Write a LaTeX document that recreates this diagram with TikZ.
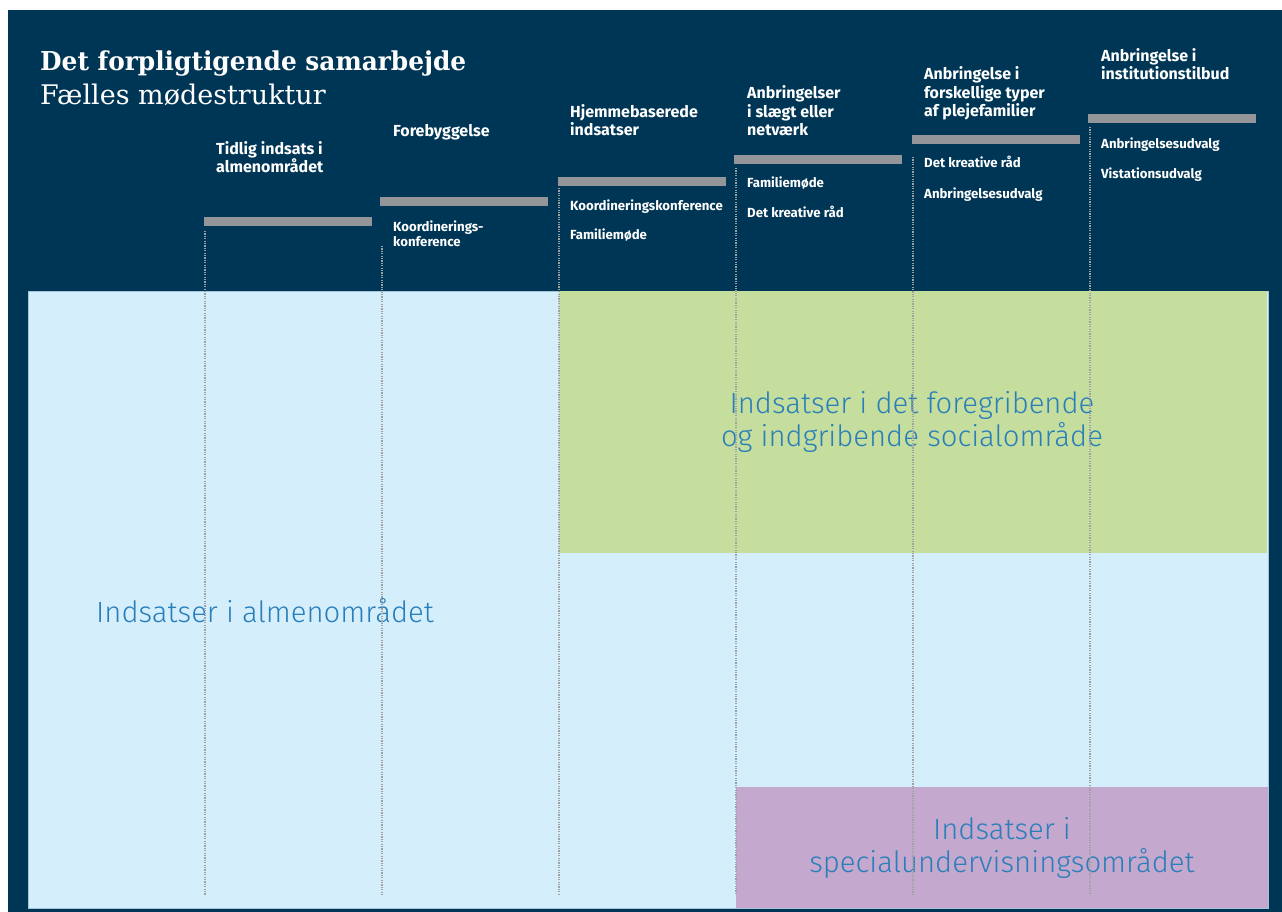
\documentclass[tikz,border=0pt]{standalone}
\usepackage{fontspec}
\setmainfont{Fira Sans}
\newfontfamily\titlefont[FakeStretch=0.955]{DejaVu Serif}
\newfontfamily\subtitlefont{DejaVu Serif}
\newfontfamily\labelfont{Fira Sans}
\newfontfamily\areafont{Fira Sans Light}
\usetikzlibrary{positioning}

\definecolor{navy}{RGB}{0,54,85}
\definecolor{bargrey}{RGB}{147,149,152}
\definecolor{almblue}{RGB}{212,239,251}
\definecolor{almedge}{RGB}{165,198,218}
\definecolor{socgreen}{RGB}{197,222,157}
\definecolor{speclilac}{RGB}{197,168,205}
\definecolor{areatext}{RGB}{42,127,186}

\begin{document}
\begin{tikzpicture}[
  x=1pt, y=-1pt,
  barstyle/.style={
        fill=bargrey,
        inner sep=0pt,
        minimum width=168pt,
        minimum height=9pt,
        anchor=north west
  },
  headstyle/.style={
        text=white,
        font=\labelfont\bfseries\fontsize{16}{18.5}\selectfont,
        align=left,
        inner sep=0pt,
        anchor=base west
  },
  itemstyle/.style={
        text=white,
        font=\labelfont\bfseries\fontsize{13.2}{15}\selectfont,
        align=left,
        inner sep=0pt,
        anchor=base west
  },
  areastyle/.style={
        text=areatext,
        font=\areafont\fontsize{29.3}{33}\selectfont,
        align=center
  },
  dotline/.style={
        draw=bargrey!90!white,
        dash pattern=on 1.2pt off 1.2pt,
        line width=1.6pt
  }
]

    \useasboundingbox (0,0) rectangle (1282,912);
    \fill[white] (0,0) rectangle (1282,912);
    \fill[navy] (8,10) rectangle (1282,912);

    % fields
    \filldraw[fill=almblue, draw=almedge, line width=0.8pt] (28,291) rectangle (1268,908);
    \fill[socgreen] (559,291) rectangle (1267,553);
    \fill[speclilac] (736,787) rectangle (1268,908);

    % title
    \node[text=white, font=\titlefont\bfseries\fontsize{26}{30}\selectfont,
          anchor=base west, inner sep=0pt] (title) at (40,71) {Det forpligtigende samarbejde};
    \node[text=white, font=\subtitlefont\fontsize{27}{30}\selectfont,
          anchor=base west, inner sep=0pt] (subtitle) at (40,105) {Fælles mødestruktur};

    % steps
    \node[barstyle] (bar_1) at (204,217) {};
    \node[barstyle] (bar_2) at (380,197) {};
    \node[barstyle] (bar_3) at (558,177) {};
    \node[barstyle] (bar_4) at (734,155) {};
    \node[barstyle] (bar_5) at (912,135) {};
    \node[barstyle] (bar_6) at (1088,114) {};

    % base of a multi-line node is its last line
    \node[headstyle] (head_1) at (216,173) {Tidlig indsats i\\almenområdet};
    \node[headstyle] (head_2) at (393,137) {Forebyggelse};
    \node[headstyle] (head_3) at (570,136) {Hjemmebaserede\\indsatser};
    \node[headstyle] (head_4) at (747,136) {Anbringelser\\i slægt eller\\netværk};
    \node[headstyle] (head_5) at (924,117) {Anbringelse i\\forskellige typer\\af plejefamilier};
    \node[headstyle] (head_6) at (1101,80) {Anbringelse i\\institutionstilbud};

    % meetings
    \node[itemstyle] (item_2a) at (393,246) {Koordinerings-\\konference};

    \node[itemstyle] (item_3a) at (570,211) {Koordineringskonference};
    \node[itemstyle, below=29pt of item_3a.base west, anchor=base west] (item_3b) {Familiemøde};

    \node[itemstyle] (item_4a) at (747,188) {Familiemøde};
    \node[itemstyle, below=30pt of item_4a.base west, anchor=base west] (item_4b) {Det kreative råd};

    \node[itemstyle] (item_5a) at (924,168) {Det kreative råd};
    \node[itemstyle, below=31pt of item_5a.base west, anchor=base west] (item_5b) {Anbringelsesudvalg};

    \node[itemstyle] (item_6a) at (1101,149) {Anbringelsesudvalg};
    \node[itemstyle, below=30pt of item_6a.base west, anchor=base west] (item_6b) {Vistationsudvalg};

    % field labels
    \node[areastyle] (area_alm) at (265,611) {Indsatser i almenområdet};
    \node[areastyle] (area_soc) at (912,422) {Indsatser i det foregribende\\og indgribende socialområde};
    \node[areastyle] (area_spec) at (1002,848) {Indsatser i\\specialundervisningsområdet};

    % dotted guides
    \coordinate (top_1) at (205,231);
    \coordinate (top_2) at (382,246);
    \coordinate (top_3) at (559,188);
    \coordinate (top_4) at (736,168);
    \coordinate (top_5) at (913,157);
    \coordinate (top_6) at (1090,127);
    \coordinate (bot_1) at (205,895);
    \coordinate (bot_2) at (382,895);
    \coordinate (bot_3) at (559,895);
    \coordinate (bot_4) at (736,895);
    \coordinate (bot_5) at (913,895);
    \coordinate (bot_6) at (1090,895);

    \draw[dotline] (top_1) -- (bot_1);
    \draw[dotline] (top_2) -- (bot_2);
    \draw[dotline] (top_3) -- (bot_3);
    \draw[dotline] (top_4) -- (bot_4);
    \draw[dotline] (top_5) -- (bot_5);
    \draw[dotline] (top_6) -- (bot_6);
\end{tikzpicture}
\end{document}
